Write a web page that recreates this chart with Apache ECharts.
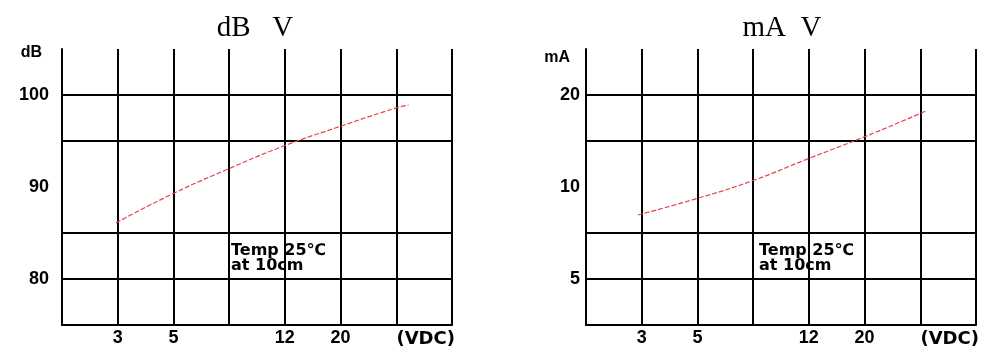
<!DOCTYPE html>
<html><head><meta charset="utf-8">
<script src="https://cdn.jsdelivr.net/npm/echarts@6/dist/echarts.min.js"></script>
<style>html,body{margin:0;padding:0;background:#fff}#c{width:999px;height:360px}</style>
</head><body><div id="c"></div>
<script>
// ---- data ----
const titles = ['dB   V', 'mA  V'];
const xTickLabels = ['', '3', '5', '', '12', '20', '', ''];
const xUnit = '(VDC)';
// left chart: sound level (dB) vs voltage (grid column position)
const dbX = [0.97, 2, 3, 4, 5, 6, 6.22];
const dbY = [86.1, 89.3, 92.0, 94.5, 96.6, 98.6, 98.9];
const dbTickLabels = [80, 90, 100];
const dbGridValues = [80, 85, 95, 100];
// right chart: current (mA, log scale) vs voltage
const maX = [0.93, 2, 3, 4, 5, 6, 6.12];
const maY = [8.1, 9.18, 10.5, 12.4, 14.6, 17.4, 17.8];
const maTickLabels = [5, 10, 20];
const maGridValues = [5, 7.071, 14.142, 20];
const note = 'Temp 25\u2103\nat 10cm';

// ---- chart ----
const chart = echarts.init(document.getElementById('c'), null, {renderer: 'canvas'});
const black = '#000';
const gridLine = {color: black, width: 2};
const labelFont = {color: black, fontFamily: 'Liberation Sans', fontWeight: 'bold', fontSize: 18};

function makeX(gi) {
  return {
    type: 'value', gridIndex: gi, min: 0, max: 7, interval: 1,
    axisLine: {show: true, onZero: false, lineStyle: gridLine},
    axisTick: {show: false},
    splitLine: {show: true, lineStyle: gridLine},
    axisLabel: Object.assign({}, labelFont, {margin: 4, formatter: v => xTickLabels[Math.round(v)] || ''}),
    name: xUnit, nameLocation: 'end', nameGap: 3,
    nameTextStyle: Object.assign({}, labelFont, {fontFamily: 'DejaVu Sans', align: 'right', verticalAlign: 'top', padding: [5, 0, 0, 0]})
  };
}
function pairs(xs, ys) { return xs.map((x, i) => [x, ys[i]]); }
const curveStyle = {color: '#e8404f', width: 1.2, type: [5, 2]};
const titleStyle = {fontFamily: 'Liberation Serif', fontWeight: 'normal', fontSize: 29, color: black};
const noteStyle = {text: note, font: 'bold 16px "DejaVu Sans"', fill: black, lineHeight: 15};

chart.setOption({
  animation: false,
  backgroundColor: '#fff',
  title: [
    {text: titles[0], left: 250, top: 9, textAlign: 'center', textStyle: titleStyle},
    {text: titles[1], left: 777, top: 9, textAlign: 'center', textStyle: titleStyle}
  ],
  grid: [
    {left: 62, top: 49, width: 390, height: 276, outerBoundsMode: 'none'},
    {left: 586, top: 49, width: 390, height: 276, outerBoundsMode: 'none'}
  ],
  xAxis: [makeX(0), makeX(1)],
  yAxis: [
    {
      type: 'value', gridIndex: 0, min: 75, max: 105,
      axisLine: {show: true, onZero: false, lineStyle: gridLine},
      axisTick: {show: false, customValues: dbGridValues},
      splitLine: {show: true, lineStyle: gridLine},
      axisLabel: Object.assign({}, labelFont, {margin: 13, customValues: dbTickLabels}),
      name: 'dB', nameLocation: 'end', nameGap: -3.5,
      nameTextStyle: {color: black, fontFamily: 'Liberation Sans', fontWeight: 'bold', fontSize: 16, align: 'right', verticalAlign: 'middle', padding: [0, 20, 0, 0]}
    },
    {
      type: 'log', logBase: 2, gridIndex: 1, min: 5 / Math.SQRT2, max: 20 * Math.SQRT2,
      axisLine: {show: true, onZero: false, lineStyle: gridLine},
      axisTick: {show: false, customValues: maGridValues},
      splitLine: {show: true, lineStyle: gridLine},
      axisLabel: Object.assign({}, labelFont, {margin: 6, customValues: maTickLabels, formatter: v => String(Math.round(v))}),
      name: 'mA', nameLocation: 'end', nameGap: -8.5,
      nameTextStyle: {color: black, fontFamily: 'Liberation Sans', fontWeight: 'bold', fontSize: 16, align: 'right', verticalAlign: 'middle', padding: [0, 16, 0, 0]}
    }
  ],
  graphic: [
    {type: 'text', left: 231, top: 243, style: noteStyle},
    {type: 'text', left: 759, top: 243, style: noteStyle}
  ],
  series: [
    {type: 'line', xAxisIndex: 0, yAxisIndex: 0, data: pairs(dbX, dbY), smooth: true, showSymbol: false, lineStyle: curveStyle, z: 5},
    {type: 'line', xAxisIndex: 1, yAxisIndex: 1, data: pairs(maX, maY), smooth: true, showSymbol: false, lineStyle: curveStyle, z: 5}
  ]
});
</script>
</body></html>
